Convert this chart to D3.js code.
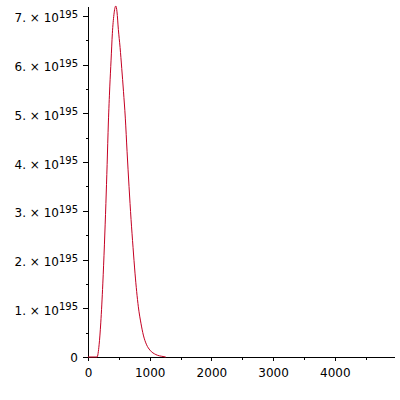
<!DOCTYPE html>
<html>
<head>
<meta charset="utf-8">
<script src="https://cdn.jsdelivr.net/npm/d3@7"></script>
<style>
  body { margin: 0; background: #fff; }
  svg text { font-family: "DejaVu Sans", sans-serif; }
</style>
</head>
<body>
<div id="chart"></div>
<script>
// curve (y in units of 10^195)
var xs = [0, 147, 180, 207, 240, 266, 290, 310, 330, 353, 374, 395, 420, 450, 470, 492, 520, 547, 575, 605, 633, 665, 698, 730, 762, 816, 860, 897, 950, 1005, 1100, 1216, 1260];
var ys = [0, 0, 0.25, 0.70, 1.50, 2.30, 3.15, 3.95, 4.80, 5.54, 6.09, 6.64, 7.02, 7.20, 7.08, 6.72, 6.35, 5.92, 5.45, 4.90, 4.22, 3.50, 2.82, 2.25, 1.72, 1.03, 0.68, 0.45, 0.25, 0.14, 0.05, 0.01, 0];
var yTicks = [0, 1, 2, 3, 4, 5, 6, 7];
var yMinor = [0.5, 1.5, 2.5, 3.5, 4.5, 5.5, 6.5];
var xTicks = [0, 1000, 2000, 3000, 4000];
var xMinor = [500, 1500, 2500, 3500, 4500];

function drawChart() {
  var width = 400, height = 400;
  var margin = {left: 88, bottom: 357, top: 6, right: 394};

  var svg = d3.select("#chart").append("svg")
      .attr("width", width)
      .attr("height", height);

  var x = d3.scaleLinear().domain([0, 4960]).range([margin.left, margin.right]);
  var y = d3.scaleLinear().domain([0, 7.2]).range([margin.bottom, margin.top]);

  // x axis
  svg.append("g")
      .attr("transform", "translate(0," + margin.bottom + ")")
      .call(d3.axisBottom(x).tickValues(xTicks).tickSize(4).tickSizeOuter(0).tickPadding(7).tickFormat(d3.format("d")));
  svg.append("g")
      .attr("transform", "translate(0," + margin.bottom + ")")
      .call(d3.axisBottom(x).tickValues(xMinor).tickSize(3).tickFormat("").tickSizeOuter(0))
      .select(".domain").remove();

  // y axis
  var gy = svg.append("g")
      .attr("transform", "translate(" + margin.left + ",0)")
      .call(d3.axisLeft(y).tickValues(yTicks).tickSize(5).tickSizeOuter(0).tickPadding(5));
  svg.append("g")
      .attr("transform", "translate(" + margin.left + ",0)")
      .call(d3.axisLeft(y).tickValues(yMinor).tickSize(2.5).tickFormat("").tickSizeOuter(0))
      .select(".domain").remove();

  svg.selectAll(".domain, .tick line").attr("stroke", "#000").attr("shape-rendering", "crispEdges");
  svg.selectAll(".tick text").attr("font-size", 12).attr("fill", "#000")
      .style("font-family", '"DejaVu Sans", sans-serif');

  // y labels as  n. × 10^195
  gy.selectAll(".tick text").each(function(d) {
    var t = d3.select(this);
    t.text(null).attr("dy", 6);
    if (d === 0) { t.text("0").attr("dy", 4.5); return; }
    t.append("tspan").text(d + ". \u00d7 10");
    t.append("tspan").attr("font-size", 10).attr("dy", -4.5).text("195");
  });

  // curve
  var line = d3.line()
      .x(function(d, i) { return x(xs[i]); })
      .y(function(d, i) { return y(ys[i]); })
      .curve(d3.curveMonotoneX);

  svg.append("path")
      .datum(xs)
      .attr("fill", "none")
      .attr("stroke", "#c40022")
      .attr("stroke-width", 1)
      .attr("d", line);
}

drawChart();
</script>
</body>
</html>
